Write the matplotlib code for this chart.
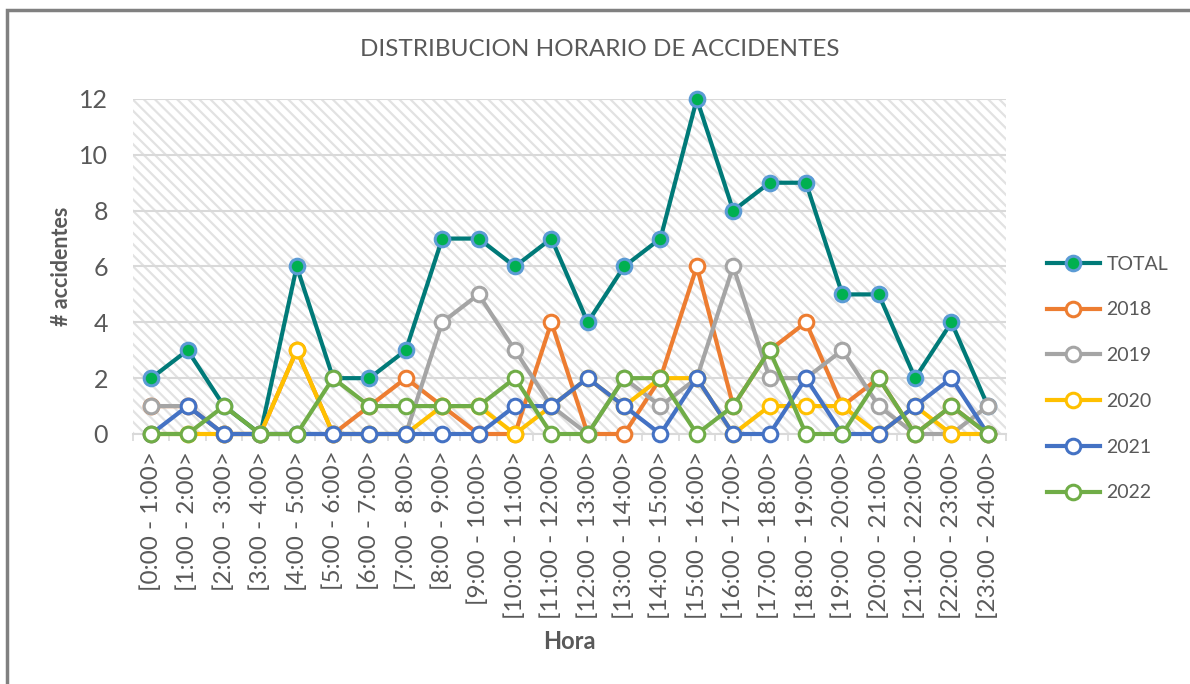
import matplotlib
matplotlib.use('Agg')
import matplotlib.pyplot as plt
from matplotlib.patches import Rectangle

# hours and accident counts
horas = ['[%d:00 - %d:00>' % (h, h + 1) for h in range(24)]
total = [2, 3, 1, 0, 6, 2, 2, 3, 7, 7, 6, 7, 4, 6, 7, 12, 8, 9, 9, 5, 5, 2, 4, 1]
y2018 = [1, 1, 0, 0, 3, 0, 1, 2, 1, 0, 0, 4, 0, 0, 2, 6, 1, 3, 4, 1, 2, 0, 1, 0]
y2019 = [1, 1, 0, 0, 0, 0, 0, 0, 4, 5, 3, 1, 0, 2, 1, 2, 6, 2, 2, 3, 1, 0, 0, 1]
y2020 = [0, 0, 0, 0, 3, 0, 0, 0, 1, 1, 0, 1, 2, 1, 2, 2, 0, 1, 1, 1, 0, 1, 0, 0]
y2021 = [0, 1, 0, 0, 0, 0, 0, 0, 0, 0, 1, 1, 2, 1, 0, 2, 0, 0, 2, 0, 0, 1, 2, 0]
y2022 = [0, 0, 1, 0, 0, 2, 1, 1, 1, 1, 2, 0, 0, 2, 2, 0, 1, 3, 0, 0, 2, 0, 1, 0]

series = ['2018', '2019', '2020', '2021', '2022']
valores = [y2018, y2019, y2020, y2021, y2022]
colores = ['#ED7D31', '#A5A5A5', '#FFC000', '#4472C4', '#70AD47']

plt.rcParams['font.family'] = ['Lato', 'DejaVu Sans']
plt.rcParams['hatch.linewidth'] = 1.6
plt.rcParams['hatch.color'] = '#E2E2E2'

fig = plt.figure(figsize=(11.9, 6.84), dpi=100)
ax = fig.add_axes([0.1118, 0.3655, 0.7336, 0.4898])

x = list(range(len(horas)))

# hatched background of the plot area
ax.add_patch(Rectangle((-0.5, 0), 24, 12, facecolor='white', edgecolor='#E2E2E2',
                       hatch='\\\\\\', linewidth=0, zorder=0))

ax.plot(x, total, color='#007A78', linewidth=3, marker='o', markersize=10.5,
        markerfacecolor='#00B050', markeredgecolor='#5B9BD5', markeredgewidth=2.2,
        label='TOTAL', zorder=3, clip_on=False)
for nombre, v, c in zip(series, valores, colores):
    ax.plot(x, v, color=c, linewidth=3, marker='o', markersize=10.5,
            markerfacecolor='white', markeredgecolor=c, markeredgewidth=2.2,
            label=nombre, zorder=3, clip_on=False)

ax.set_xlim(-0.5, 23.5)
ax.set_ylim(0, 12)
ax.set_yticks(range(0, 13, 2))
ax.set_xticks(x)
ax.set_xticklabels(horas, rotation=90, fontsize=17.5, color='#595959')
ax.set_xticks([i - 0.5 for i in range(25)], minor=True)
ax.tick_params(axis='x', which='major', length=0, pad=12)
ax.tick_params(axis='x', which='minor', length=5, color='#D9D9D9', width=1.2)
ax.tick_params(axis='y', length=0, labelsize=18, labelcolor='#595959', pad=18)
ax.grid(axis='y', color='#D9D9D9', linewidth=1.5, zorder=1)
ax.set_axisbelow(True)
for s in ['top', 'right', 'left']:
    ax.spines[s].set_visible(False)
ax.spines['bottom'].set_color('#D9D9D9')
ax.spines['bottom'].set_linewidth(1.5)

ax.set_ylabel('# accidentes', fontsize=15.5, fontweight='bold', color='#595959', labelpad=5)
ax.set_xlabel('Hora', fontsize=17, fontweight='bold', color='#595959', labelpad=8)
fig.text(0.504, 0.928, 'DISTRIBUCION HORARIO DE ACCIDENTES', ha='center', va='center',
         fontsize=17.5, color='#595959')

leg = fig.legend(*ax.get_legend_handles_labels(), loc='center left',
                 bbox_to_anchor=(1047 / 1190, 1 - 378.5 / 684), frameon=False,
                 fontsize=14, labelspacing=1.48, handlelength=2.7, handletextpad=0.35,
                 borderpad=0, borderaxespad=0)
for t in leg.get_texts():
    t.set_color('#595959')

# outer chart border (only left and top visible in the crop)
fig.patches.append(Rectangle((7 / 1190, -0.1), 1.2, 1.1 - 10 / 684,
                             transform=fig.transFigure, fill=False,
                             edgecolor='#808080', linewidth=2.5))

fig.savefig('out.png', dpi=100)
